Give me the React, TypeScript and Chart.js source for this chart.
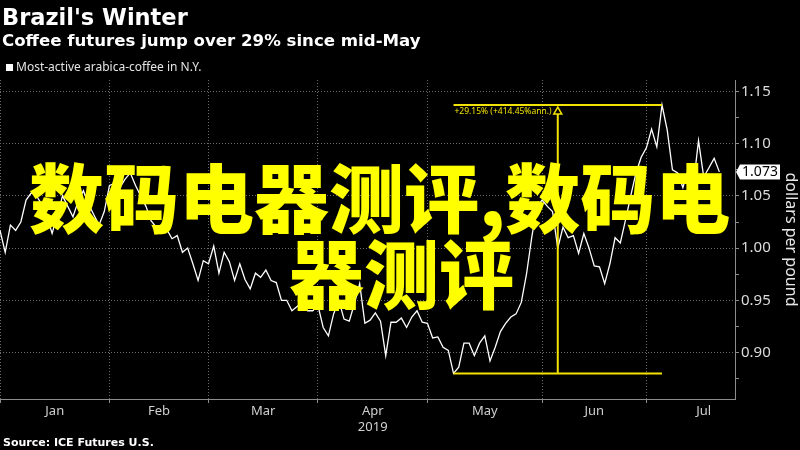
import React, { useEffect, useRef } from "react";
import { Chart, registerables } from "chart.js";

Chart.register(...registerables);

const TITLE = "Brazil's Winter";
const SUBTITLE = "Coffee futures jump over 29% since mid-May";
const SERIES_LABEL = "Most-active arabica-coffee in N.Y.";
const SOURCE = "Source: ICE Futures U.S.";
const Y_AXIS_TITLE = "dollars per pound";
const CHANGE_LABEL = "+29.15% (+414.45%ann.)";
const OVERLAY_LINES = ["数码电器测评,数码电", "器测评"];

const monthNames = ["Jan", "Feb", "Mar", "Apr", "May", "Jun", "Jul"];
const yearLabel = "2019";
const yearUnderMonth = 3;
// trading-day index where each month begins / its middle
const monthStartIdx = [0, 21, 40, 61, 82, 104, 124];
const monthMidIdx = [10.5, 30.5, 50.5, 71.5, 93, 114, 135];
const xMaxIdx = 141;

const yTickValues = [0.875, 0.9, 0.925, 0.95, 0.975, 1.0, 1.025, 1.05, 1.075, 1.1, 1.125, 1.15];
const yMajorTicks = [0.9, 0.95, 1.0, 1.05, 1.1, 1.15];
const yMin = 0.8555;
const yMax = 1.161;

// daily settle, most-active arabica coffee (USD/lb), Jan 2 – Jul 22 2019
const priceValues = [
  1.017, 0.996, 1.022, 1.017, 1.025, 1.046, 1.053, 1.05, 1.042, 1.03,
  1.014, 1.032, 1.05, 1.04, 1.03, 1.045, 1.055, 1.042, 1.032, 1.022,
  1.035, 1.06, 1.062, 1.058, 1.066, 1.072, 1.06, 1.05, 1.04, 1.026,
  1.02, 1.015, 1.018, 1.009, 1.012, 0.996, 1.0, 0.985, 0.969, 0.988,
  0.985, 1.002, 0.976, 0.996, 0.987, 0.969, 0.985, 0.97, 0.961, 0.976,
  0.972, 0.979, 0.969, 0.967, 0.95, 0.95, 0.94, 0.944, 0.948, 0.94,
  0.94, 0.945, 0.924, 0.916, 0.937, 0.95, 0.932, 0.93, 0.947, 0.966,
  0.928, 0.931, 0.938, 0.93, 0.897, 0.929, 0.929, 0.933, 0.924, 0.934,
  0.94, 0.929, 0.928, 0.914, 0.915, 0.905, 0.902, 0.88, 0.886, 0.909,
  0.909, 0.897, 0.909, 0.916, 0.892, 0.905, 0.92, 0.928, 0.934, 0.937,
  0.948, 0.975, 1.01, 1.04, 1.046, 1.04, 1.035, 1.0, 1.02, 1.01,
  1.012, 0.995, 1.014, 1.0, 0.983, 0.982, 0.966, 0.985, 1.01, 1.005,
  1.027, 1.05, 1.072, 1.087, 1.096, 1.114, 1.097, 1.137, 1.113, 1.075,
  1.072, 1.058, 1.075, 1.06, 1.103, 1.068, 1.077, 1.086, 1.073,
];

const YELLOW = "#f2e200";
const GRID = "#6a6a6a";
const AXIS = "#8c8c8c";

const isMajor = (v: number) => yMajorTicks.some((m) => Math.abs(m - v) < 1e-6);

const decorPlugin = {
  id: "bbgDecor",
  afterDraw(chart: any) {
    const { ctx, chartArea, scales } = chart;
    const xs = scales.x;
    const ys = scales.y;
    ctx.save();
    ctx.textAlign = "left";
    ctx.textBaseline = "alphabetic";
    ctx.fillStyle = "#ffffff";
    ctx.font = 'bold 22.5px "DejaVu Sans"';
    ctx.fillText(TITLE, 2, 25);
    ctx.font = 'bold 16.6px "DejaVu Sans"';
    ctx.fillText(SUBTITLE, 2, 46);
    ctx.fillRect(6, 64, 7, 7);
    ctx.fillStyle = "#e4e4e4";
    ctx.font = '12px "Noto Sans"';
    ctx.fillText(SERIES_LABEL, 16, 71);
    ctx.fillStyle = "#ffffff";
    ctx.font = 'bold 11px "DejaVu Sans"';
    ctx.fillText(SOURCE, 3, 446);

    // change annotation between low and high
    let lo = 0;
    let hi = 0;
    priceValues.forEach((v, i) => {
      if (v < priceValues[lo]) lo = i;
      if (v > priceValues[hi]) hi = i;
    });
    const xl = xs.getPixelForValue(lo);
    const xh = xs.getPixelForValue(hi);
    const yl = ys.getPixelForValue(priceValues[lo]);
    const yh = ys.getPixelForValue(priceValues[hi]);
    const xm = (xl + xh) / 2;
    ctx.strokeStyle = YELLOW;
    ctx.lineWidth = 2;
    ctx.beginPath();
    ctx.moveTo(xl, yh);
    ctx.lineTo(xh, yh);
    ctx.moveTo(xl, yl);
    ctx.lineTo(xh, yl);
    ctx.moveTo(xm, yl);
    ctx.lineTo(xm, yh + 9);
    ctx.stroke();
    ctx.lineWidth = 1.5;
    ctx.beginPath();
    ctx.moveTo(xm, yh + 2);
    ctx.lineTo(xm - 4, yh + 9);
    ctx.lineTo(xm + 4, yh + 9);
    ctx.closePath();
    ctx.stroke();
    ctx.fillStyle = YELLOW;
    ctx.font = '8.5px "Noto Sans"';
    ctx.fillText(CHANGE_LABEL, xl + 1, yh + 9);

    // last value tag
    const last = priceValues[priceValues.length - 1];
    const ly = ys.getPixelForValue(last);
    const bx = chartArea.right + 5;
    ctx.fillStyle = "#ffffff";
    ctx.beginPath();
    ctx.moveTo(chartArea.right + 1, ly);
    ctx.lineTo(bx, ly - 7.5);
    ctx.lineTo(bx + 40, ly - 7.5);
    ctx.lineTo(bx + 40, ly + 7.5);
    ctx.lineTo(bx, ly + 7.5);
    ctx.closePath();
    ctx.fill();
    ctx.fillStyle = "#000000";
    ctx.font = '14px "Noto Sans"';
    ctx.textAlign = "center";
    ctx.textBaseline = "middle";
    ctx.fillText(last.toFixed(3), bx + 20, ly + 0.5);
    ctx.restore();
  },
};

export default function App() {
  const canvasRef = useRef<HTMLCanvasElement>(null);

  useEffect(() => {
    const canvas = canvasRef.current;
    if (!canvas) return;
    const chart = new Chart(canvas, {
      type: "line",
      data: {
        datasets: [
          {
            label: SERIES_LABEL,
            data: priceValues.map((v, i) => ({ x: i, y: v })),
            borderColor: "#ffffff",
            backgroundColor: "#ffffff",
            borderWidth: 1.3,
            pointRadius: 0,
            tension: 0,
            fill: false,
          },
        ],
      },
      options: {
        animation: false,
        responsive: false,
        devicePixelRatio: 1,
        layout: { padding: { top: 80, left: 0, right: 0, bottom: 0 } },
        plugins: {
          legend: { display: false },
          title: { display: false },
          tooltip: { enabled: false },
        },
        scales: {
          x: {
            type: "linear",
            position: "bottom",
            min: 0,
            max: xMaxIdx,
            bounds: "data",
            weight: 0,
            afterBuildTicks: (s: any) => {
              s.ticks = monthStartIdx.map((v) => ({ value: v }));
            },
            afterFit: (s: any) => {
              s.height = 4;
            },
            ticks: { display: false, autoSkip: false },
            grid: { color: GRID, tickColor: AXIS, tickLength: 4, lineWidth: 1 },
            border: { display: true, color: AXIS, width: 1, dash: [1, 2] },
          },
          xLabels: {
            type: "linear",
            position: "bottom",
            min: 0,
            max: xMaxIdx,
            bounds: "data",
            weight: 1,
            afterBuildTicks: (s: any) => {
              s.ticks = monthMidIdx.map((v) => ({ value: v }));
            },
            afterFit: (s: any) => {
              s.height = 47;
            },
            ticks: {
              autoSkip: false,
              maxRotation: 0,
              minRotation: 0,
              padding: 0,
              color: "#cfcfcf",
              font: { family: "Noto Sans", size: 13, lineHeight: 16 / 13 },
              callback: (_v: any, i: number) =>
                i === yearUnderMonth ? [monthNames[i], yearLabel] : monthNames[i],
            },
            grid: { display: false, drawTicks: false },
            border: { display: false },
          },
          y: {
            type: "linear",
            position: "right",
            min: yMin,
            max: yMax,
            bounds: "data",
            afterBuildTicks: (s: any) => {
              s.ticks = yTickValues.map((v) => ({ value: v }));
            },
            afterFit: (s: any) => {
              s.width = 65;
            },
            ticks: {
              autoSkip: false,
              padding: 2,
              color: "#dcdcdc",
              font: { family: "Noto Sans", size: 15 },
              callback: (v: any) => (isMajor(Number(v)) ? Number(v).toFixed(2) : ""),
            },
            grid: {
              color: (c: any) => (c.tick && !isMajor(c.tick.value) ? "transparent" : GRID),
              tickColor: AXIS,
              tickLength: 4,
              lineWidth: 1,
            },
            border: { display: true, color: AXIS, width: 1, dash: [1, 2] },
            title: {
              display: true,
              text: Y_AXIS_TITLE,
              color: "#e6e6e6",
              font: { family: "Noto Sans", size: 16 },
              padding: { top: 0, bottom: 0 },
            },
          },
        },
      },
      plugins: [decorPlugin],
    } as any);
    return () => chart.destroy();
  }, []);

  return (
    <div
      style={{
        position: "fixed",
        left: 0,
        top: 0,
        width: 800,
        height: 450,
        background: "#000000",
        overflow: "hidden",
      }}
    >
      <canvas ref={canvasRef} width={800} height={450} style={{ display: "block" }} />
      {OVERLAY_LINES.map((line, i) => (
        <div
          key={i}
          style={{
            position: "absolute",
            left: i === 0 ? 29 : 289,
            top: i === 0 ? 157 : 233,
            fontFamily: '"Noto Sans CJK SC"',
            fontWeight: 900,
            fontSize: 75,
            lineHeight: "75px",
            color: "#ffff00",
            whiteSpace: "nowrap",
            pointerEvents: "none",
          }}
        >
          {line}
        </div>
      ))}
    </div>
  );
}
